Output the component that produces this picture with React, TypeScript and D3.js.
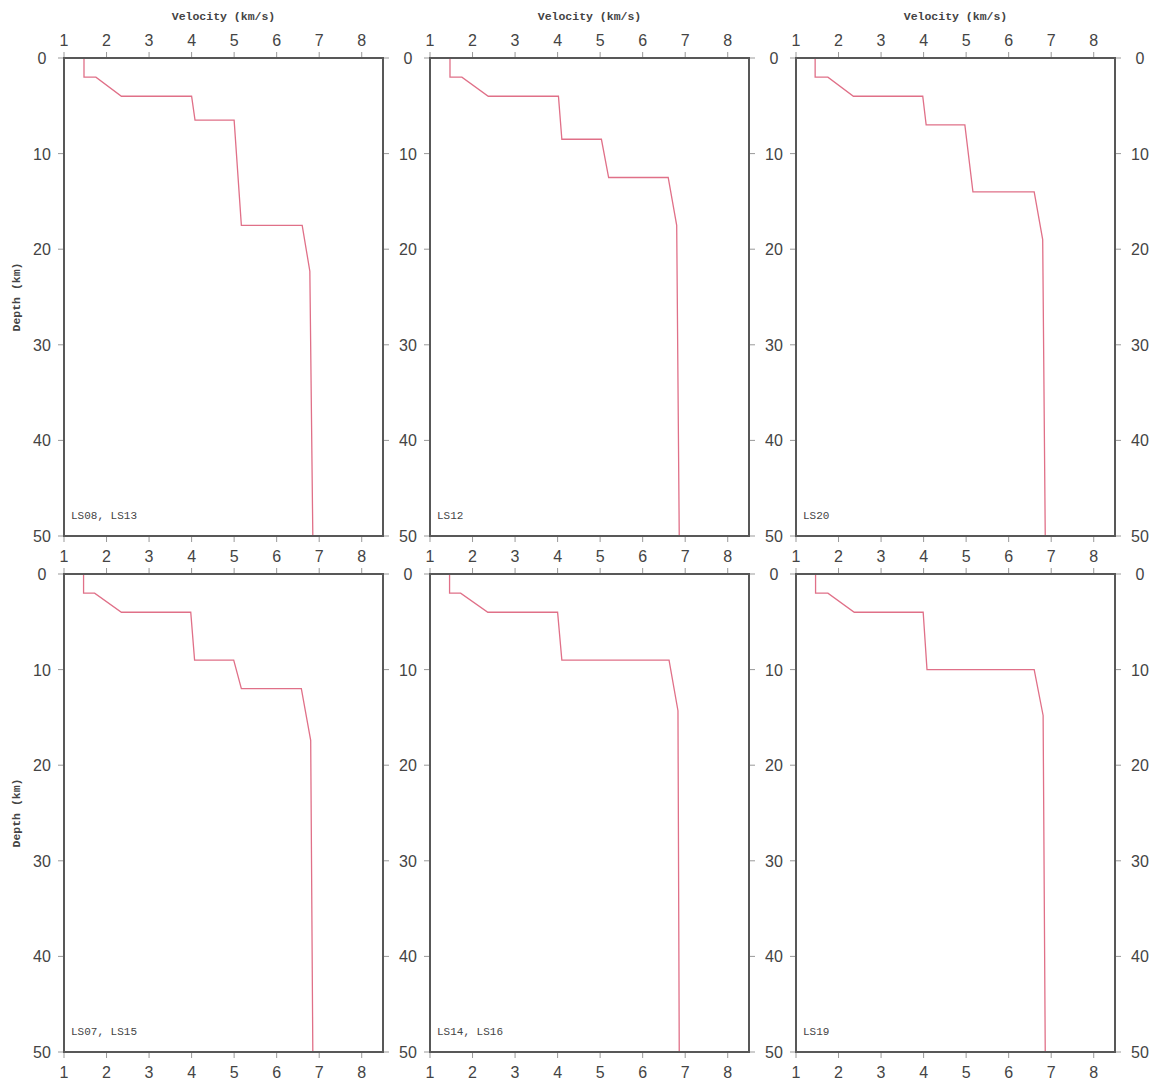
import React from "react";
import * as d3 from "d3";

// Station groups drawn in each panel (row-major order)
const stationLabels = ["LS08, LS13", "LS12", "LS20", "LS07, LS15", "LS14, LS16", "LS19"];

// Layer-boundary depths (km) for each velocity profile
const depthLS08 = [0, 2, 2, 4, 4, 6.5, 6.5, 17.5, 17.5, 22.3, 50];
const depthLS12 = [0, 2, 2, 4, 4, 8.5, 8.5, 12.5, 12.5, 17.5, 50];
const depthLS20 = [0, 2, 2, 4, 4, 7, 7, 14, 14, 19, 50];
const depthLS07 = [0, 2, 2, 4, 4, 9, 9, 12, 12, 17.4, 50];
const depthLS14 = [0, 2, 2, 4, 4, 9, 9, 14.3, 50];
const depthLS19 = [0, 2, 2, 4, 4, 10, 10, 14.8, 50];

// P-wave velocities (km/s) at those depths
const velLS08 = [1.47, 1.47, 1.75, 2.35, 4.0, 4.08, 5.0, 5.17, 6.6, 6.78, 6.85];
const velLS12 = [1.47, 1.47, 1.75, 2.37, 4.02, 4.1, 5.03, 5.2, 6.6, 6.8, 6.86];
const velLS20 = [1.45, 1.45, 1.75, 2.35, 3.98, 4.06, 4.97, 5.16, 6.6, 6.8, 6.86];
const velLS07 = [1.46, 1.46, 1.72, 2.35, 3.98, 4.07, 4.99, 5.17, 6.58, 6.8, 6.85];
const velLS14 = [1.46, 1.46, 1.72, 2.36, 4.0, 4.1, 6.62, 6.83, 6.86];
const velLS19 = [1.46, 1.46, 1.75, 2.37, 3.99, 4.08, 6.6, 6.81, 6.86];

const depths = [depthLS08, depthLS12, depthLS20, depthLS07, depthLS14, depthLS19];
const velocities = [velLS08, velLS12, velLS20, velLS07, velLS14, velLS19];

const velocityTicks = [1, 2, 3, 4, 5, 6, 7, 8];
const depthTicks = [0, 10, 20, 30, 40, 50];

const W = 1152;
const H = 1082;
const panelW = 319;
const panelH = 478;
const colLeft = [64, 430, 796];
const rowTop = [58, 574];

const tickFont = "'Liberation Sans', Arial, sans-serif";
const monoFont = "'Liberation Mono', 'DejaVu Sans Mono', monospace";
const frameColor = "#585858";
const tickColor = "#999";
const labelColor = "#444";
const lineColor = "#e07088";

function Panel({ idx }: { idx: number }) {
  const col = idx % 3;
  const row = Math.floor(idx / 3);
  const left = colLeft[col];
  const top = rowTop[row];
  const x = d3.scaleLinear().domain([1, 8.5]).range([left, left + panelW]);
  const y = d3.scaleLinear().domain([0, 50]).range([top, top + panelH]);
  const pts: [number, number][] = depths[idx].map((d, i) => [velocities[idx][i], d]);
  const path = d3
    .line<[number, number]>()
    .x((p) => x(p[0]))
    .y((p) => y(p[1]))(pts);
  const bottom = top + panelH;
  const right = left + panelW;
  const tl = 6;
  return (
    <g>
      {/* x ticks on top and bottom */}
      {velocityTicks.map((v) => (
        <g key={"xt" + v}>
          <line x1={x(v)} x2={x(v)} y1={top} y2={top - tl} stroke={tickColor} strokeWidth={1} />
          <line x1={x(v)} x2={x(v)} y1={bottom} y2={bottom + tl} stroke={tickColor} strokeWidth={1} />
          {row === 0 && (
            <text x={x(v)} y={top - 12} textAnchor="middle" fontFamily={tickFont} fontSize={16} fill={labelColor}>
              {v}
            </text>
          )}
          <text x={x(v)} y={bottom + 26} textAnchor="middle" fontFamily={tickFont} fontSize={16} fill={labelColor}>
            {v}
          </text>
        </g>
      ))}
      {/* y ticks on left and right */}
      {depthTicks.map((d) => (
        <g key={"yt" + d}>
          <line x1={left} x2={left - tl} y1={y(d)} y2={y(d)} stroke={tickColor} strokeWidth={1} />
          <line x1={right} x2={right + tl} y1={y(d)} y2={y(d)} stroke={tickColor} strokeWidth={1} />
          <text x={left - 22} y={y(d) + 6} textAnchor="middle" fontFamily={tickFont} fontSize={16} fill={labelColor}>
            {d}
          </text>
          {col === 2 && (
            <text x={right + 25} y={y(d) + 6} textAnchor="middle" fontFamily={tickFont} fontSize={16} fill={labelColor}>
              {d}
            </text>
          )}
        </g>
      ))}
      <path d={path ?? ""} fill="none" stroke={lineColor} strokeWidth={1.3} />
      <rect x={left} y={top} width={panelW} height={panelH} fill="none" stroke={frameColor} strokeWidth={2} />
      <text x={left + 7} y={bottom - 17} fontFamily={monoFont} fontSize={11} fill={labelColor}>
        {stationLabels[idx]}
      </text>
      {row === 0 && (
        <text
          x={(left + right) / 2}
          y={20}
          textAnchor="middle"
          fontFamily={monoFont}
          fontSize={11.5}
          fontWeight="bold"
          fill={labelColor}
        >
          Velocity (km/s)
        </text>
      )}
      {col === 0 && (
        <text
          transform={`translate(20,${(top + bottom) / 2}) rotate(-90)`}
          textAnchor="middle"
          fontFamily={monoFont}
          fontSize={11.5}
          fontWeight="bold"
          fill={labelColor}
        >
          Depth (km)
        </text>
      )}
    </g>
  );
}

export default function App() {
  return (
    <svg
      width={W}
      height={H}
      style={{ position: "absolute", left: 0, top: 0, background: "#fff" }}
    >
      <rect width={W} height={H} fill="#fff" />
      {stationLabels.map((_, i) => (
        <Panel key={i} idx={i} />
      ))}
    </svg>
  );
}
